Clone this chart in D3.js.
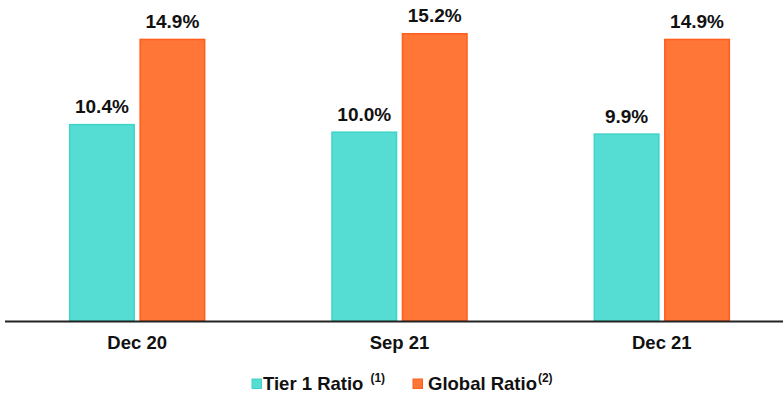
<!DOCTYPE html>
<html>
<head>
<meta charset="utf-8">
<script src="https://cdn.jsdelivr.net/npm/d3@7"></script>
<style>
  body { margin: 0; background: #fff; }
  #chart { width: 783px; height: 394px; }
  text { font-family: "Liberation Sans", Arial, sans-serif; font-weight: bold; fill: #111; }
</style>
</head>
<body>
<div id="chart"></div>
<script>
// data
const periods = ["Dec 20", "Sep 21", "Dec 21"];
const series = ["Tier 1 Ratio", "Global Ratio"];
const tier1 = [10.4, 10.0, 9.9];
const global = [14.9, 15.2, 14.9];
const notes = ["(1)", "(2)"];

const width = 783, height = 394;
const baseY = 321;

const svg = d3.select("#chart").append("svg")
    .attr("width", width)
    .attr("height", height);

const fills = ["#55ddd4", "#ff7636"];
const strokes = ["#3fd3c8", "#ff5e1c"];

const xScale = d3.scaleBand()
    .domain(periods)
    .range([6, 793])
    .padding(0);

const xInner = d3.scaleBand()
    .domain(series)
    .range([xScale.bandwidth() / 2 - 68, xScale.bandwidth() / 2 + 68])
    .paddingInner(0.07);

const yScale = d3.scaleLinear()
    .domain([0, 16.957])
    .range([baseY, 0]);

const rows = periods.map((p, i) => ({ period: p, values: [tier1[i], global[i]] }));

const groups = svg.selectAll("g.grp")
    .data(rows)
    .enter()
    .append("g")
    .attr("class", "grp")
    .attr("transform", d => `translate(${xScale(d.period)},0)`);

groups.selectAll("rect")
    .data(d => d.values.map((v, j) => ({ key: series[j], v: v, j: j })))
    .enter()
    .append("rect")
    .attr("x", d => xInner(d.key) + 0.5)
    .attr("y", d => yScale(d.v) + 0.5)
    .attr("width", xInner.bandwidth() - 1)
    .attr("height", d => baseY - yScale(d.v) - 0.5)
    .attr("fill", d => fills[d.j])
    .attr("stroke", d => strokes[d.j])
    .attr("stroke-width", 1.5);

groups.selectAll("text.val")
    .data(d => d.values.map((v, j) => ({ key: series[j], v: v, j: j })))
    .enter()
    .append("text")
    .attr("class", "val")
    .attr("x", d => xInner(d.key) + xInner.bandwidth() / 2)
    .attr("y", d => yScale(d.v) - 11)
    .attr("text-anchor", "middle")
    .attr("font-size", 19)
    .text(d => d.v.toFixed(1) + "%");

// axis
const xAxis = svg.append("g")
    .attr("transform", `translate(0,${baseY})`)
    .call(d3.axisBottom(xScale).tickSize(0).tickPadding(14));
xAxis.select(".domain").remove();
xAxis.append("line")
    .attr("x1", 5).attr("x2", 783)
    .attr("y1", 0.5).attr("y2", 0.5)
    .attr("stroke", "#222").attr("stroke-width", 2);
xAxis.selectAll(".tick text")
    .attr("dy", null)
    .attr("y", 28)
    .attr("font-size", 18.5)
    .attr("font-family", "Liberation Sans, Arial, sans-serif")
    .attr("font-weight", "bold")
    .attr("fill", "#111");

// legend
const legendPos = [252, 413];
const legend = svg.selectAll("g.leg")
    .data(series)
    .enter()
    .append("g")
    .attr("class", "leg")
    .attr("transform", (d, i) => `translate(${legendPos[i]},379)`);

legend.append("rect")
    .attr("width", 9.5).attr("height", 9.5)
    .attr("fill", (d, i) => fills[i])
    .attr("stroke", (d, i) => strokes[i]);

const lt = legend.append("text")
    .attr("x", (d, i) => i === 0 ? 11 : 15)
    .attr("y", 11)
    .attr("font-size", 18.5);
lt.append("tspan").text(d => d);
lt.append("tspan")
    .attr("dx", (d, i) => i === 0 ? 7 : 1)
    .attr("dy", -8)
    .attr("font-size", 12)
    .text((d, i) => notes[i]);
</script>
</body>
</html>
